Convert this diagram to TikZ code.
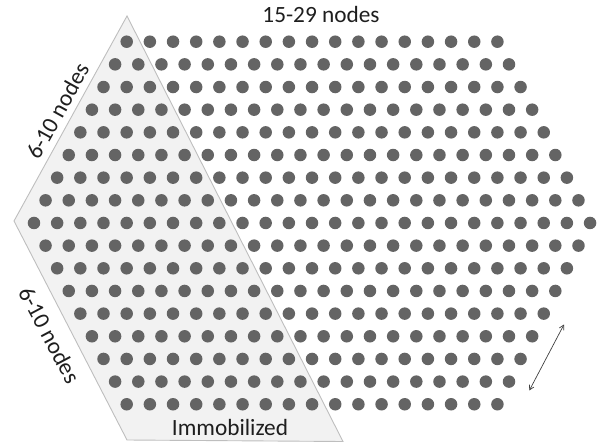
\documentclass[tikz,border=0pt]{standalone}
\usepackage{fontspec}
\setmainfont{Carlito}
\usetikzlibrary{arrows.meta}
\definecolor{dotgray}{RGB}{100,100,100}
\definecolor{panelfill}{RGB}{242,242,242}
\definecolor{paneledge}{RGB}{190,190,190}
\definecolor{labeltext}{RGB}{30,30,30}
\begin{document}
\begin{tikzpicture}[x=1pt,y=-1pt,
  dot/.style={circle,fill=dotgray,inner sep=0pt,minimum size=12.5pt},
  lbl/.style={font=\fontsize{23.3}{28}\selectfont, text=labeltext, inner sep=0pt},
  panel/.style={fill=panelfill,draw=paneledge,line width=0.9pt},
  dbl/.style={draw=black!75, line width=0.7pt, {Straight Barb[length=4.5pt,width=5pt]}-{Straight Barb[length=4.5pt,width=5pt]}}]
\useasboundingbox (0,0) rectangle (614,447);
\coordinate (pA) at (127,16);
\coordinate (pL) at (14,221);
\coordinate (pB) at (127,440);
\coordinate (pR) at (343,441.5);
\draw[panel] (pA) -- (pL) -- (pB) -- (pR) -- cycle;
\foreach \r in {0,...,16}{
  \pgfmathtruncatemacro{\k}{8-abs(\r-8)}
  \pgfmathtruncatemacro{\n}{16+\k}
  \foreach \c in {0,...,\n}{
     \node[dot] (d-\r-\c) at ({126.7-11.59*\k+23.17*\c},{41.7+22.66*\r}) {};
  }
}
\node[lbl, anchor=base] (top) at (321,22.7) {15-29 nodes};
\node[lbl, anchor=base] (imm) at (230,435) {Immobilized};
\node[lbl, rotate=61] (upper) at (57.5,111) {6-10 nodes};
\node[lbl, rotate=-62] (lower) at (49.5,335) {6-10 nodes};
\coordinate (aS) at (529.3,390.5);
\coordinate (aE) at (564,324.5);
\draw[dbl] (aS) -- (aE);
\end{tikzpicture}
\end{document}
